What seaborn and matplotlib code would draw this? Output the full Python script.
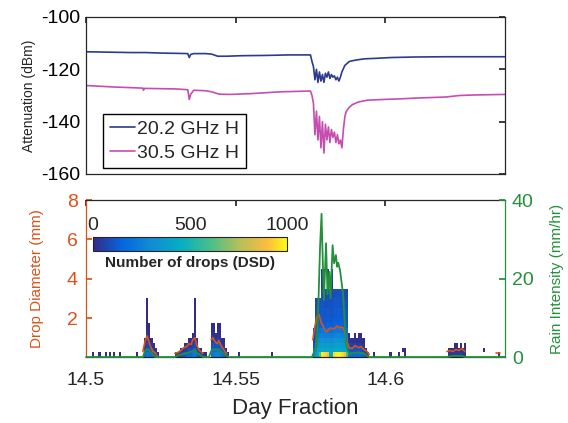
import numpy as np
import pandas as pd
import matplotlib
matplotlib.use("Agg")
import matplotlib.pyplot as plt
from matplotlib.colors import LinearSegmentedColormap, Normalize
import seaborn as sns

# ---- attenuation (top panel) ----
t_20 = [14.500, 14.505, 14.510, 14.515, 14.520, 14.525, 14.530, 14.534, 14.5345, 14.535,
        14.536, 14.540, 14.542, 14.544, 14.547, 14.552, 14.560, 14.568, 14.575,
        14.5755, 14.576, 14.5765, 14.577, 14.5775, 14.578, 14.5785, 14.579, 14.5795, 14.580,
        14.5805, 14.581, 14.5815, 14.582, 14.5825, 14.583, 14.5835, 14.584, 14.5845, 14.585,
        14.5855, 14.5865, 14.588, 14.590, 14.593, 14.597, 14.602, 14.610, 14.620, 14.630, 14.640]
att_20 = [-113.3, -113.4, -113.5, -113.6, -113.6, -113.8, -113.9, -114.0, -115.5, -114.3,
          -114.0, -114.0, -114.2, -115.0, -115.0, -114.8, -114.7, -114.5, -114.5,
          -117.0, -119.0, -124.0, -120.0, -125.0, -121.0, -124.5, -122.0, -125.0, -121.5,
          -123.0, -121.0, -123.5, -122.0, -123.0, -122.5, -124.0, -123.0, -124.5, -123.0,
          -121.0, -118.5, -117.0, -116.5, -116.0, -115.8, -115.5, -115.3, -115.2, -115.2, -115.2]

t_30 = [14.500, 14.505, 14.510, 14.515, 14.519, 14.5192, 14.5195, 14.525, 14.530, 14.534,
        14.5345, 14.535, 14.536, 14.540, 14.542, 14.5445, 14.548, 14.555, 14.565, 14.575,
        14.5755, 14.576, 14.5765, 14.577, 14.5775, 14.578, 14.5785, 14.579, 14.5795, 14.580,
        14.5805, 14.581, 14.5815, 14.582, 14.5825, 14.583, 14.5835, 14.584, 14.5845, 14.585,
        14.5855, 14.586, 14.5865, 14.587, 14.588, 14.589, 14.591, 14.594, 14.600, 14.605,
        14.610, 14.615, 14.620, 14.625, 14.630, 14.640]
att_30 = [-126.2, -126.5, -126.8, -127.0, -127.2, -128.0, -127.3, -127.4, -127.5, -127.8,
          -131.5, -129.5, -128.0, -128.2, -128.6, -129.5, -129.6, -129.3, -128.6, -128.3,
          -130.0, -133.0, -145.0, -136.0, -147.0, -138.0, -150.0, -140.0, -152.0, -141.0,
          -147.0, -142.0, -148.0, -143.0, -146.0, -144.0, -148.0, -145.0, -148.5, -147.0,
          -150.0, -143.0, -138.0, -136.0, -134.5, -133.5, -132.5, -131.8, -131.5, -131.3,
          -131.0, -130.8, -130.6, -130.0, -129.8, -129.6]

# ---- drop size distribution (bottom panel), 1-minute columns after day 14.5 ----
diam_edges = [0, 0.25, 0.5, 0.75, 1.0, 1.25, 1.5, 1.75, 2.0, 2.5, 3.0, 3.5, 4.5]
dsd_minute = [3, 6, 9, 11, 13, 16, 24,
              28, 29, 30, 31, 32, 33, 34,
              43, 44, 45, 46, 47, 48, 49, 50, 51, 52, 53, 54, 55, 56, 57,
              60, 61, 62, 63, 64, 65, 66, 67, 68, 73, 89,
              109, 110, 111, 112, 113, 114, 115, 116, 117, 118, 119, 120, 121, 122, 123, 124, 125,
              126, 127, 128, 129, 130, 131, 132, 133, 134, 135,
              138, 146, 150, 152, 153,
              174, 175, 176, 177, 178, 179, 180, 181, 182, 191, 198]
dsd_counts = [
    [6], [8], [10], [12], [8], [6], [5],
    [150, 60, 25, 8],
    [220, 140, 80, 40, 20, 12, 6, 4, 2, 1],
    [200, 120, 60, 30, 15, 6, 2],
    [180, 90, 35, 8],
    [140, 50, 12],
    [80, 15],
    [20],
    [25], [40], [60, 15], [90, 25], [120, 50, 10], [150, 70, 20], [170, 90, 40, 8],
    [160, 80, 30, 8], [200, 120, 60, 20, 5], [230, 160, 90, 45, 20, 10, 5, 3, 2, 1],
    [160, 70, 25, 5], [90, 25], [60, 15], [30], [12],
    [200, 150, 100, 60, 30, 12, 3],
    [230, 170, 110, 60, 30, 12, 3],
    [250, 180, 100, 45, 12],
    [260, 190, 120, 60, 25, 8, 2],
    [240, 170, 100, 50, 22, 8, 2],
    [200, 120, 50, 12],
    [150, 80, 30, 8],
    [70, 20], [15], [5], [5],
    [250, 180, 100, 50, 20, 6],
    [350, 300, 260, 200, 150, 120, 100, 90, 80, 70],
    [450, 380, 330, 280, 220, 170, 130, 110, 100, 90],
    [600, 400, 360, 300, 250, 190, 140, 120, 110, 100],
    [980, 420, 380, 330, 260, 220, 150, 130, 120, 110, 90, 30],
    [960, 410, 370, 320, 250, 210, 140, 120, 110, 100, 80, 25],
    [940, 400, 360, 310, 240, 200, 140, 120, 110, 100, 80],
    [900, 420, 380, 320, 250, 210, 150, 130, 120, 100, 80, 20],
    [430, 400, 360, 310, 240, 200, 140, 120, 110, 100, 80],
    [420, 390, 350, 300, 230, 190, 130, 115, 105, 95, 75, 20],
    [950, 420, 380, 330, 260, 210, 150, 130, 120, 110, 90],
    [980, 430, 390, 340, 270, 220, 160, 135, 125, 110, 90],
    [1000, 440, 400, 340, 270, 220, 160, 135, 125, 110, 95],
    [970, 420, 380, 330, 260, 210, 150, 130, 120, 105, 90],
    [940, 410, 370, 320, 250, 200, 145, 125, 115, 100, 85],
    [900, 400, 360, 300, 240, 190, 140, 120, 110, 95, 80],
    [600, 380, 330, 270, 210, 170, 120, 105, 95, 85, 70],
    [200, 130, 70, 30, 10],
    [180, 110, 60, 20],
    [170, 100, 50, 15],
    [190, 120, 60, 25, 8],
    [160, 90, 40, 10],
    [180, 110, 55, 25, 8],
    [170, 100, 50, 20, 6],
    [140, 70, 25, 6],
    [60, 15], [20],
    [5], [4], [6], [0, 10], [4, 12],
    [25, 6], [35, 10], [30, 8], [40, 12, 4], [45, 15, 5], [40, 12], [50, 18, 6],
    [35, 10], [25, 6, 3], [0, 6], [12],
]

# mean drop diameter (mm), one list per rain spell
dm_time = [
    [14.5190, 14.5197, 14.5204, 14.5210, 14.5217, 14.5224, 14.5231, 14.5237],
    [14.5297, 14.5307, 14.5317, 14.5327, 14.5337, 14.5344, 14.5351, 14.5357, 14.5364,
     14.5371, 14.5378, 14.5384, 14.5391],
    [14.5418, 14.5424, 14.5431, 14.5438, 14.5444, 14.5451, 14.5458, 14.5464, 14.5471],
    [14.5758, 14.5765, 14.5772, 14.5778, 14.5785, 14.5792, 14.5799, 14.5805, 14.5812,
     14.5819, 14.5825, 14.5832, 14.5839, 14.5845, 14.5852, 14.5859, 14.5865, 14.5872,
     14.5879, 14.5889, 14.5899, 14.5909, 14.5919, 14.5929, 14.5939, 14.5946],
    [14.6206, 14.6216, 14.6226, 14.6236, 14.6246, 14.6256, 14.6266],
    [14.6370, 14.6383],
]
dm_value = [
    [0.3, 0.8, 1.1, 0.8, 0.5, 0.3, 0.25, 0.1],
    [0.2, 0.25, 0.35, 0.5, 0.55, 0.7, 0.65, 0.9, 1.0, 0.6, 0.35, 0.3, 0.2],
    [0.9, 1.0, 0.8, 0.7, 0.85, 0.6, 0.45, 0.3, 0.2],
    [0.9, 1.6, 2.1, 2.2, 1.8, 1.6, 1.35, 1.3, 1.45, 1.5, 1.45, 1.5, 1.6, 1.5,
     1.55, 1.5, 1.3, 0.8, 0.5, 0.45, 0.6, 0.5, 0.55, 0.4, 0.3, 0.15],
    [0.3, 0.35, 0.3, 0.4, 0.35, 0.45, 0.3],
    [0.2, 0.2],
]

# rain intensity (mm/hr)
rain_time = [14.5000, 14.5190, 14.5197, 14.5204, 14.5210, 14.5217, 14.5224, 14.5231,
             14.5297, 14.5310, 14.5327, 14.5344, 14.5357, 14.5364, 14.5371, 14.5384, 14.5391,
             14.5411, 14.5418, 14.5431, 14.5444, 14.5458, 14.5471, 14.5478,
             14.5755, 14.5771, 14.5777, 14.5782, 14.5787, 14.5792, 14.5795, 14.5802, 14.5807,
             14.5813, 14.5817, 14.5824, 14.5829, 14.5835, 14.5839, 14.5843, 14.5849, 14.5859,
             14.5865, 14.5871, 14.5879, 14.5890, 14.5910, 14.5930, 14.5946,
             14.6206, 14.6226, 14.6256, 14.6266, 14.6400]
rain_value = [0, 0, 1.5, 2.0, 1.8, 1.2, 0.6, 0,
              0, 0.5, 0.8, 1.2, 1.5, 1.8, 1.0, 0.4, 0,
              0, 1.5, 2.0, 1.8, 1.0, 0.3, 0,
              0, 3, 15, 28, 36.5, 22, 14.5, 29, 16,
              21.7, 15, 28.5, 23.9, 26, 23, 24, 22, 16,
              8, 2.6, 0.8, 1.0, 1.2, 0.8, 0,
              0, 0.3, 0.3, 0, 0]

x_ticks = [14.5, 14.55, 14.6]

# parula-like colormap
parula = LinearSegmentedColormap.from_list("parula", [
    (0.0, (0.208, 0.166, 0.529)),
    (0.15, (0.02, 0.40, 0.88)),
    (0.3, (0.07, 0.55, 0.83)),
    (0.45, (0.02, 0.68, 0.76)),
    (0.6, (0.27, 0.75, 0.55)),
    (0.75, (0.70, 0.75, 0.35)),
    (0.9, (0.99, 0.74, 0.24)),
    (1.0, (0.976, 0.984, 0.081)),
])

ORANGE = "#D95319"
GREEN = "#22913A"
BLUE = "#2E3A8F"
PINK = "#C64DB0"

sns.set_theme(style="white")
plt.rcParams["font.family"] = ["Liberation Sans", "DejaVu Sans"]
plt.rcParams["axes.linewidth"] = 0.9
plt.rcParams["axes.unicode_minus"] = False

fig = plt.figure(figsize=(5.68, 4.23), dpi=100)
ax1 = fig.add_axes([0.1514, 0.5887, 0.7377, 0.3712])
ax2 = fig.add_axes([0.1514, 0.156, 0.7377, 0.371])

# top panel
sns.lineplot(x=t_20, y=att_20, ax=ax1, color=BLUE, lw=1.2, label="20.2 GHz H", estimator=None)
sns.lineplot(x=t_30, y=att_30, ax=ax1, color=PINK, lw=1.2, label="30.5 GHz H", estimator=None)
ax1.set_xlim(14.5, 14.64)
ax1.set_ylim(-160, -100)
ax1.set_yticks([-160, -140, -120, -100])
ax1.set_xticks(x_ticks)
ax1.tick_params(direction="in", top=True, right=True, length=4, labelsize=14,
                labelbottom=False, colors="#262626")
ax1.tick_params(axis="y", labelcolor="black", pad=4)
ax1.set_ylabel("Attenuation (dBm)", fontsize=10, labelpad=4)
for s in ax1.spines.values():
    s.set_color("#262626")
leg = ax1.legend(loc="lower left", bbox_to_anchor=(0.04, 0.035), fontsize=14,
                 frameon=True, fancybox=False, edgecolor="black", framealpha=1,
                 handlelength=1.3, handletextpad=0.1, borderpad=0.35, labelspacing=0.3,
                 borderaxespad=0)
leg.get_frame().set_linewidth(1.0)

# bottom panel: DSD image
n_min = 202
grid = np.zeros((len(diam_edges) - 1, n_min))
for m, counts in zip(dsd_minute, dsd_counts):
    grid[:len(counts), m] = counts
grid = np.ma.masked_equal(grid, 0)
t_edges = 14.5 + np.arange(n_min + 1) / 1440
norm = Normalize(0, 1000)
mesh = ax2.pcolormesh(t_edges, diam_edges, grid, cmap=parula, norm=norm, shading="flat")

dm_df = pd.DataFrame({
    "t": [t for seg in dm_time for t in seg],
    "d": [v for seg in dm_value for v in seg],
    "spell": [i for i, seg in enumerate(dm_time) for _ in seg],
})
sns.lineplot(data=dm_df, x="t", y="d", units="spell", estimator=None, ax=ax2,
             color=ORANGE, lw=1.2)
ax2.set_xlim(14.5, 14.64)
ax2.set_ylim(0.02, 8)
ax2.set_yticks([2, 4, 6, 8])
ax2.set_xticks(x_ticks)
ax2.set_xticklabels(["14.5", "14.55", "14.6"])
ax2.tick_params(axis="y", direction="in", length=4, labelsize=14, colors=ORANGE, pad=6)
ax2.tick_params(axis="x", direction="in", top=True, length=4, labelsize=14,
                colors="#262626", labelcolor="#262626", pad=11)
ax2.set_ylabel("Drop Diameter (mm)", fontsize=11, color=ORANGE, labelpad=16)
ax2.set_xlabel("Day Fraction", fontsize=16, color="#262626", labelpad=6)
ax2.spines["left"].set_color(ORANGE)
ax2.spines["right"].set_visible(False)
ax2.spines["top"].set_color("#262626")
ax2.spines["bottom"].set_color("#262626")

ax3 = ax2.twinx()
sns.lineplot(x=rain_time, y=rain_value, ax=ax3, color=GREEN, lw=1.3, estimator=None)
for line in ax3.lines:
    line.set_clip_on(False)
ax3.set_ylim(0, 40)
ax3.set_yticks([0, 20, 40])
ax3.tick_params(axis="y", direction="in", length=4, labelsize=14, colors=GREEN, pad=5)
ax3.set_ylabel("Rain Intensity (mm/hr)", fontsize=11, color=GREEN, labelpad=12)
ax3.spines["right"].set_color(GREEN)
ax3.spines["left"].set_visible(False)
ax3.spines["top"].set_visible(False)
ax3.spines["bottom"].set_visible(False)

# colorbar inset
cax = fig.add_axes([0.164, 0.4066, 0.3415, 0.033])
cb = fig.colorbar(mesh, cax=cax, orientation="horizontal")
cb.set_ticks([0, 500, 1000])
cax.xaxis.set_ticks_position("top")
cax.tick_params(length=0, labelsize=14, pad=2)
cb.outline.set_linewidth(0.8)
cax.text(0.5, -0.35, "Number of drops (DSD)", transform=cax.transAxes, ha="center",
         va="top", fontsize=11, fontweight="bold")

fig.savefig("out.png", dpi=100)
